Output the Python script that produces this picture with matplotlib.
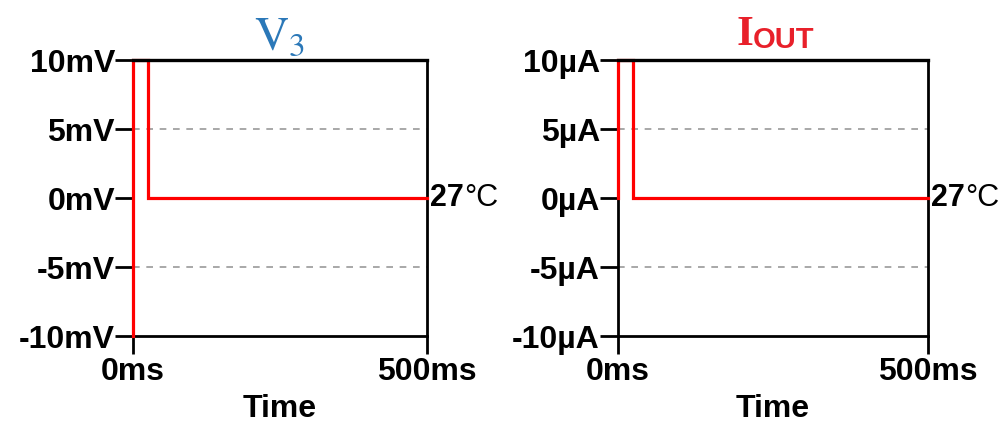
import matplotlib
matplotlib.use("Agg")
import matplotlib.pyplot as plt

plt.rcParams['font.family'] = ['Liberation Sans', 'DejaVu Sans']
plt.rcParams['mathtext.fontset'] = 'stix'

# waveform data (time in ms)
t_v3 = [0, 0, 25, 25, 500]
v3 = [-10, 10, 10, 0, 0]          # mV
t_iout = [0, 0, 24, 24, 500]
iout = [0, 10, 10, 0, 0]          # uA

y_ticks = [-10, -5, 0, 5, 10]
x_ticks = [0, 500]
v_labels = ["-10mV", "-5mV", "0mV", "5mV", "10mV"]
i_labels = ["-10µA", "-5µA", "0µA", "5µA", "10µA"]
x_labels = ["0ms", "500ms"]
temp_label = "27"

RED = "#ff0000"
FS = 23

fig = plt.figure(figsize=(10, 4.26), dpi=100)
ax1 = fig.add_axes([0.133, 0.211, 0.294, 0.648])
ax2 = fig.add_axes([0.618, 0.211, 0.310, 0.648])


def style(ax, t, y, ylabels):
    ax.plot(t, y, color=RED, lw=2.3, zorder=3, clip_on=False, solid_joinstyle='miter')
    ax.set_xlim(0, 500)
    ax.set_ylim(-10, 10)
    ax.set_yticks(y_ticks)
    ax.set_yticklabels(ylabels, fontsize=FS, fontweight='bold')
    ax.set_xticks(x_ticks)
    ax.set_xticklabels(x_labels, fontsize=FS, fontweight='bold')
    ax.tick_params(direction='out', length=13, width=2, pad=0)
    ax.tick_params(axis='x', pad=2)
    for s in ax.spines.values():
        s.set_linewidth(2)
    # top frame line drawn above the trace, as in the original
    ax.spines['top'].set_linewidth(2.4)
    ax.spines['top'].set_zorder(4)
    for yy in (-5, 5):
        ax.axhline(yy, color='#999999', lw=1.2, ls=(0, (4, 4)), zorder=1)
    ax.set_xlabel("Time", fontsize=FS, fontweight='bold', labelpad=5)
    t1 = ax.text(1.01, 0.5, temp_label, transform=ax.transAxes, fontsize=FS - 1,
                 fontweight='bold', va='center', ha='left')
    ax.annotate("°C", xy=(1, 0.5), xycoords=t1, fontsize=FS - 1,
                va='center', ha='left')


style(ax1, t_v3, v3, v_labels)
style(ax2, t_iout, iout, i_labels)

ax1.set_title(r"$\mathrm{V}_{3}$", fontsize=34, color="#2b78b8", pad=2)

ti = fig.text(0.736, 0.895, "I", fontsize=31, fontweight='bold', family='Liberation Serif',
              color="#e8202a", ha='left', va='baseline')
plt.annotate("OUT", xy=(1, 0), xycoords=ti, fontsize=21, fontweight='bold',
             family='Liberation Sans', color="#e8202a", ha='left', va='bottom',
             annotation_clip=False)

fig.savefig("out.png", dpi=100)
